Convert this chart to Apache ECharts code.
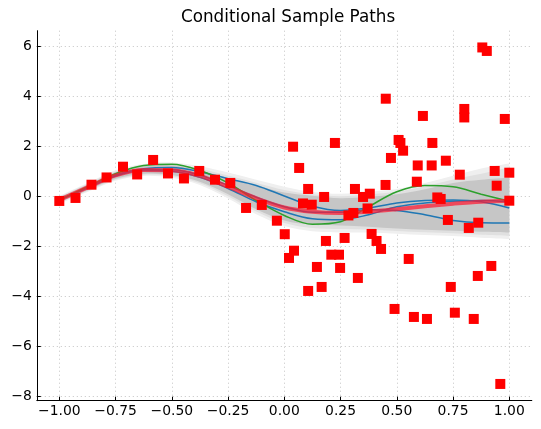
<!DOCTYPE html>
<html><head><meta charset="utf-8">
<script src="https://cdn.jsdelivr.net/npm/echarts@6/dist/echarts.min.js"></script>
<style>html,body{margin:0;padding:0;background:#fff}#c{width:541px;height:429px}</style>
</head><body><div id="c"></div>
<script>
// ---- data ----
const xTicks = [-1, -0.75, -0.5, -0.25, 0, 0.25, 0.5, 0.75, 1];
const yTicks = [-8, -6, -4, -2, 0, 2, 4, 6];

const gridX = [-1,-0.875,-0.75,-0.625,-0.5,-0.375,-0.25,-0.125,0,0.125,0.25,0.375,0.5,0.625,0.75,0.875,1];

const meanY  = [-0.13,0.37,0.85,1.07,1.06,0.83,0.40,-0.06,-0.43,-0.60,-0.65,-0.60,-0.50,-0.38,-0.28,-0.20,-0.16];

const lightHi = [0.03,0.55,1.06,1.31,1.37,1.22,0.97,0.68,0.40,0.19,0.12,0.20,0.31,0.55,0.84,1.13,1.33];
const midHi   = [0.00,0.51,1.01,1.26,1.30,1.12,0.85,0.56,0.27,0.10,0.02,0.10,0.20,0.42,0.69,0.92,1.18];
const darkHi  = [-0.03,0.48,0.98,1.22,1.25,1.05,0.75,0.45,0.17,0.04,-0.06,0.00,0.10,0.30,0.55,0.68,0.77];
const darkLo  = [-0.23,0.26,0.72,0.92,0.87,0.60,0.10,-0.50,-0.95,-1.12,-1.15,-1.20,-1.27,-1.32,-1.36,-1.40,-1.43];
const midLo   = [-0.25,0.23,0.68,0.88,0.82,0.54,0.02,-0.59,-1.05,-1.25,-1.29,-1.31,-1.37,-1.42,-1.46,-1.52,-1.56];
const lightLo = [-0.29,0.19,0.64,0.83,0.76,0.47,-0.07,-0.70,-1.17,-1.38,-1.43,-1.43,-1.48,-1.53,-1.57,-1.64,-1.69];

const blueA = [-0.13,0.38,0.87,1.12,1.17,1.00,0.72,0.45,0.03,-0.38,-0.55,-0.45,-0.25,-0.15,-0.13,-0.20,-0.45];
const blueB = [-0.13,0.36,0.85,1.08,1.08,0.86,0.45,-0.02,-0.40,-0.62,-0.62,-0.52,-0.55,-0.72,-0.95,-1.04,-1.05];
const blueC = [-0.13,0.35,0.83,1.05,1.02,0.78,0.33,-0.20,-0.60,-0.88,-0.92,-0.72,-0.40,-0.25,-0.18,-0.15,-0.20];
const green = [-0.13,0.40,0.92,1.25,1.30,1.05,0.55,-0.15,-0.75,-1.10,-1.00,-0.40,0.20,0.45,0.40,0.10,-0.18];

const obsX = [-1.0,-0.928,-0.857,-0.79,-0.717,-0.654,-0.583,-0.517,-0.446,-0.378,-0.308,-0.24,-0.17,-0.1,-0.033,0.002,
  0.021,0.039,0.043,0.066,0.083,0.106,0.106,0.122,0.145,0.166,0.177,0.185,0.209,0.225,0.243,0.248,0.268,0.285,0.307,0.314,
  0.327,0.35,0.37,0.38,0.388,0.41,0.43,0.45,0.451,0.474,0.49,0.508,0.516,0.528,0.553,0.576,0.589,0.593,0.616,0.634,
  0.655,0.658,0.68,0.695,0.718,0.727,0.74,0.758,0.78,0.8,0.8,0.82,0.842,0.86,0.862,0.88,0.9,0.92,0.935,0.944,0.96,0.98,1.0,1.0];
const obsY = [-0.17,-0.05,0.48,0.77,1.2,0.89,1.47,0.93,0.73,1.03,0.68,0.55,-0.45,-0.33,-0.96,-1.5,
  -2.45,2.0,-2.16,1.15,-0.27,0.31,-3.77,-0.32,-2.81,-3.61,-0.01,-1.77,-2.32,2.15,-2.32,-2.85,-1.65,-0.75,-0.65,0.31,
  -3.25,-0.01,-0.47,0.12,-1.49,-1.77,-2.09,0.47,3.92,1.55,-4.49,2.27,2.15,1.84,-2.49,-4.81,0.6,1.25,3.23,-4.89,
  1.25,2.15,-0.03,-0.09,1.44,-0.93,-3.61,-4.64,0.88,3.51,3.17,-1.25,-4.89,-3.17,-1.04,5.97,5.83,-2.77,1.03,0.44,-7.49,3.11,0.96,-0.16];

// ---- helpers ----
const FONT = 'DejaVu Sans';
const pairs = (xs, ys) => xs.map((x, i) => [x, ys[i]]);
const minus = s => String(s).replace('-', '\u2212');

// smooth (Catmull-Rom) path segments through pixel points produced by api.coord
function curveSegs(p) {
  let s = '';
  for (let i = 0; i < p.length - 1; i++) {
    const p0 = p[i - 1] || p[i], p1 = p[i], p2 = p[i + 1], p3 = p[i + 2] || p[i + 1];
    const c1 = [p1[0] + (p2[0] - p0[0]) / 6, p1[1] + (p2[1] - p0[1]) / 6];
    const c2 = [p2[0] - (p3[0] - p1[0]) / 6, p2[1] - (p3[1] - p1[1]) / 6];
    s += ' C' + c1[0] + ',' + c1[1] + ' ' + c2[0] + ',' + c2[1] + ' ' + p2[0] + ',' + p2[1];
  }
  return s;
}
function band(lo, hi, color) {
  return {type:'custom', silent:true, z:1, data:[[0, 0]],
    renderItem: function (params, api) {
      const up = gridX.map((x, i) => api.coord([x, hi[i]]));
      const dn = gridX.map((x, i) => api.coord([x, lo[i]])).reverse();
      const d = 'M' + up[0][0] + ',' + up[0][1] + curveSegs(up) +
                ' L' + dn[0][0] + ',' + dn[0][1] + curveSegs(dn) + ' Z';
      return {type:'path', shape:{pathData:d}, style:{fill:color, stroke:null}};
    }};
}
function path(ys, color) {
  return {type:'line', data:pairs(gridX, ys), smooth:0.35, symbol:'none', silent:true,
          lineStyle:{color:color, width:1.5}, z:2};
}

const gridLine = {show:true, lineStyle:{color:'#c4c4c4', width:1, type:[1,3]}};
const axisLabel = (vals, fmt, margin) => ({customValues:vals, formatter:fmt, margin:margin,
  fontFamily:FONT, fontSize:13.9, color:'#000'});

const chart = echarts.init(document.getElementById('c'), null, {renderer:'canvas'});
chart.setOption({
  animation:false,
  backgroundColor:'#fff',
  title:{text:'Conditional Sample Paths', left:176, top:4,
         textStyle:{fontFamily:FONT, fontSize:16.8, fontWeight:'normal', color:'#000'}},
  grid:{left:36.8, right:9.2, top:30.7, bottom:28.3, containLabel:false},
  xAxis:{type:'value', min:-1.1, max:1.1,
    axisLine:{show:true, onZero:false, lineStyle:{color:'#000', width:1}},
    axisTick:{show:true, inside:true, length:4, customValues:xTicks, lineStyle:{color:'#000'}},
    axisLabel:axisLabel(xTicks, v => minus(v.toFixed(2)), 4),
    splitLine:gridLine},
  yAxis:{type:'value', min:-8.16, max:6.64,
    axisLine:{show:true, onZero:false, lineStyle:{color:'#000', width:1}},
    axisTick:{show:true, inside:true, length:4, customValues:yTicks, lineStyle:{color:'#000'}},
    axisLabel:axisLabel(yTicks, v => minus(v), 5),
    splitLine:gridLine},
  series:[
    band(lightLo, lightHi, '#efefef'),
    band(midLo, midHi, '#e0e0e0'),
    band(darkLo, darkHi, '#c6c6c6'),
    path(blueA, '#1f77b4'),
    path(blueB, '#1f77b4'),
    path(blueC, '#1f77b4'),
    path(green, '#2ca02c'),
    {type:'line', data:pairs(gridX, meanY), smooth:0.35, symbol:'none', silent:true,
     lineStyle:{color:'rgba(255,25,50,0.72)', width:4}, z:3},
    {type:'scatter', data:pairs(obsX, obsY), symbol:'rect', symbolSize:10, silent:true,
     itemStyle:{color:'#ff0000', opacity:1}, z:5}
  ]
});
</script>
</body></html>
